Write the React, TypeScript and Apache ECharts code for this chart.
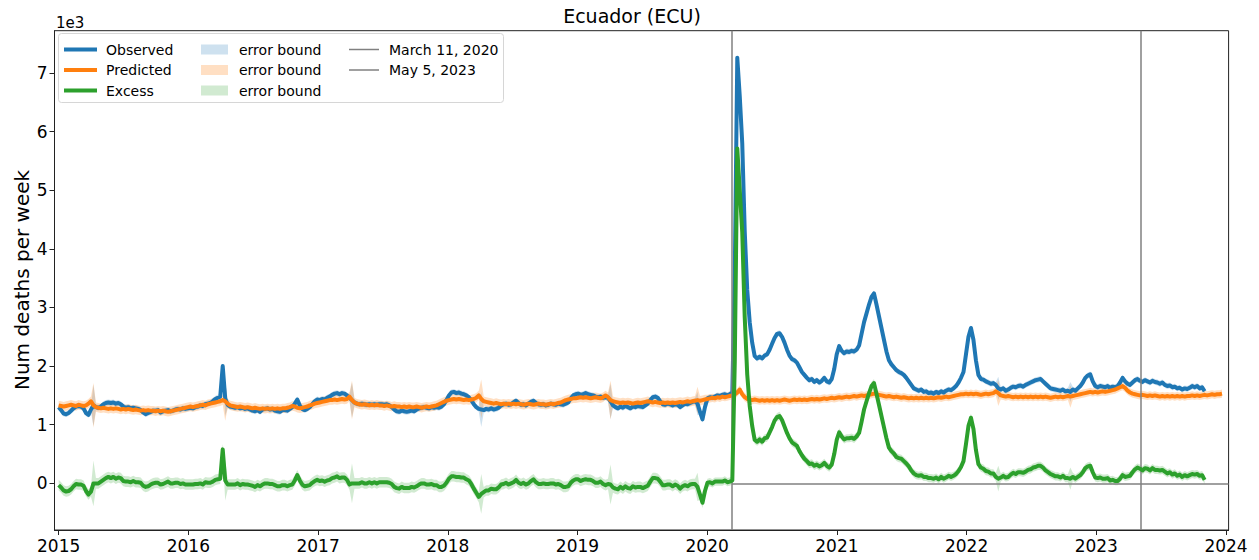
import React, { useEffect, useRef } from "react";
import * as echarts from "echarts";

const TITLE = "Ecuador (ECU)";
const Y_LABEL = "Num deaths per week";
const Y_SCALE_LABEL = "1e3";

// Weekly series: first week (decimal year) and week length in years
const WEEK_START = 2015.0;
const WEEK_STEP = 7 / 365.25;

const X_TICKS = [2015, 2016, 2017, 2018, 2019, 2020, 2021, 2022, 2023, 2024];
const Y_TICKS = [0, 1, 2, 3, 4, 5, 6, 7];
const X_MIN = 2014.968;
const X_MAX = 2024.02;
const Y_MIN = -0.795;
const Y_MAX = 7.72;

const MARCH_11_2020 = 2020 + 70 / 366;
const MAY_5_2023 = 2023 + 124 / 365;

// Observed deaths per week (thousands), one value per week
const observed = [
  1.30, 1.25, 1.19, 1.18, 1.20, 1.24, 1.28, 1.31, 1.32, 1.31, 1.28, 1.20, 1.17,
  1.26, 1.33, 1.30, 1.29, 1.31, 1.35, 1.37, 1.38, 1.37, 1.38, 1.36, 1.37, 1.35,
  1.31, 1.29, 1.30, 1.28, 1.29, 1.28, 1.27, 1.25, 1.21, 1.18, 1.20, 1.22, 1.24,
  1.24, 1.25, 1.21, 1.23, 1.24, 1.25, 1.23, 1.24, 1.26, 1.27, 1.26, 1.28, 1.27,
  1.28, 1.29, 1.28, 1.30, 1.31, 1.33, 1.32, 1.35, 1.36, 1.37, 1.40, 1.44, 1.46,
  1.48, 2.00, 1.45, 1.34, 1.31, 1.30, 1.29, 1.30, 1.28, 1.29, 1.27, 1.28, 1.26,
  1.24, 1.23, 1.25, 1.22, 1.26, 1.27, 1.28, 1.26, 1.27, 1.24, 1.23, 1.22, 1.25,
  1.25, 1.24, 1.27, 1.30, 1.36, 1.43, 1.33, 1.27, 1.25, 1.27, 1.30, 1.35, 1.40,
  1.43, 1.42, 1.44, 1.43, 1.46, 1.48, 1.51, 1.53, 1.54, 1.52, 1.54, 1.53, 1.50,
  1.46, 1.42, 1.38, 1.36, 1.35, 1.36, 1.35, 1.34, 1.35, 1.34, 1.35, 1.34, 1.35,
  1.35, 1.34, 1.35, 1.33, 1.30, 1.26, 1.23, 1.22, 1.24, 1.23, 1.22, 1.23, 1.24,
  1.23, 1.26, 1.28, 1.29, 1.30, 1.29, 1.28, 1.30, 1.29, 1.30, 1.29, 1.31, 1.35,
  1.42, 1.50, 1.55, 1.56, 1.54, 1.55, 1.53, 1.52, 1.50, 1.47, 1.42, 1.35, 1.30,
  1.27, 1.26, 1.25, 1.27, 1.26, 1.28, 1.26, 1.27, 1.29, 1.33, 1.35, 1.36, 1.34,
  1.35, 1.38, 1.41, 1.37, 1.34, 1.35, 1.33, 1.36, 1.39, 1.41, 1.37, 1.35, 1.34,
  1.35, 1.33, 1.34, 1.36, 1.35, 1.34, 1.36, 1.35, 1.34, 1.36, 1.38, 1.45, 1.50,
  1.52, 1.53, 1.51, 1.52, 1.54, 1.52, 1.51, 1.50, 1.48, 1.47, 1.48, 1.46, 1.47,
  1.46, 1.40, 1.33, 1.30, 1.28, 1.31, 1.29, 1.32, 1.30, 1.28, 1.31, 1.30, 1.32,
  1.31, 1.30, 1.33, 1.36, 1.42, 1.47, 1.48, 1.46, 1.40, 1.35, 1.34, 1.36, 1.35,
  1.33, 1.35, 1.34, 1.30, 1.33, 1.36, 1.35, 1.37, 1.39, 1.40, 1.36, 1.22, 1.09,
  1.30, 1.45, 1.47, 1.46, 1.48, 1.50, 1.49, 1.51, 1.52, 1.50, 1.52, 1.55, 3.60,
  7.26, 6.60, 5.80, 4.30, 3.30, 2.75, 2.40, 2.17, 2.13, 2.16, 2.13, 2.18, 2.20,
  2.28, 2.38, 2.48, 2.55, 2.56, 2.50, 2.40, 2.28, 2.18, 2.12, 2.10, 2.06, 1.98,
  1.90, 1.85, 1.80, 1.76, 1.78, 1.73, 1.76, 1.72, 1.75, 1.80, 1.74, 1.72, 1.78,
  1.95, 2.20, 2.34, 2.26, 2.22, 2.25, 2.24, 2.26, 2.25, 2.28, 2.35, 2.55, 2.75,
  2.90, 3.05, 3.18, 3.24, 3.05, 2.85, 2.65, 2.45, 2.25, 2.10, 2.03, 1.98, 1.93,
  1.90, 1.88, 1.85, 1.80, 1.74, 1.68, 1.62, 1.60, 1.58, 1.60, 1.56, 1.57, 1.54,
  1.55, 1.53, 1.56, 1.54, 1.57, 1.55, 1.58, 1.60, 1.59, 1.62, 1.66, 1.72, 1.80,
  1.90, 2.20, 2.50, 2.65, 2.45, 2.10, 1.85, 1.78, 1.77, 1.74, 1.72, 1.70, 1.71,
  1.68, 1.62, 1.60, 1.62, 1.58, 1.60, 1.63, 1.65, 1.64, 1.66, 1.67, 1.65, 1.68,
  1.70, 1.72, 1.74, 1.76, 1.77, 1.78, 1.74, 1.70, 1.66, 1.62, 1.61, 1.60, 1.59,
  1.58, 1.60, 1.57, 1.58, 1.56, 1.60, 1.58, 1.62, 1.66, 1.72, 1.80, 1.84, 1.86,
  1.74, 1.66, 1.64, 1.66, 1.65, 1.64, 1.66, 1.63, 1.65, 1.64, 1.66, 1.72, 1.80,
  1.74, 1.70, 1.68, 1.72, 1.76, 1.78, 1.75, 1.73, 1.76, 1.74, 1.72, 1.75, 1.73,
  1.72, 1.70, 1.72, 1.68, 1.66, 1.67, 1.64, 1.65, 1.62, 1.63, 1.60, 1.62, 1.61,
  1.63, 1.66, 1.64, 1.66, 1.62, 1.64, 1.57,
];

// Predicted (expected) deaths per week (thousands)
const predicted = [
  1.33, 1.32, 1.31, 1.32, 1.33, 1.34, 1.33, 1.32, 1.34, 1.33, 1.32, 1.33, 1.36,
  1.40, 1.33, 1.30, 1.29, 1.28, 1.29, 1.28, 1.27, 1.28, 1.27, 1.28, 1.27, 1.26,
  1.27, 1.26, 1.27, 1.26, 1.25, 1.26, 1.25, 1.24, 1.25, 1.24, 1.25, 1.24, 1.24,
  1.23, 1.24, 1.23, 1.24, 1.23, 1.22, 1.23, 1.24, 1.25, 1.26, 1.27, 1.28, 1.29,
  1.30, 1.31, 1.30, 1.31, 1.32, 1.33, 1.34, 1.33, 1.35, 1.36, 1.37, 1.38, 1.39,
  1.40, 1.42, 1.40, 1.36, 1.33, 1.32, 1.31, 1.30, 1.31, 1.30, 1.29, 1.30, 1.29,
  1.28, 1.29, 1.28, 1.27, 1.28, 1.27, 1.28, 1.27, 1.28, 1.27, 1.28, 1.27, 1.28,
  1.28, 1.29, 1.30, 1.32, 1.31, 1.29, 1.28, 1.29, 1.30, 1.31, 1.33, 1.34, 1.36,
  1.37, 1.38, 1.39, 1.40, 1.41, 1.42, 1.42, 1.43, 1.42, 1.43, 1.44, 1.43, 1.44,
  1.48, 1.42, 1.38, 1.36, 1.35, 1.34, 1.35, 1.34, 1.33, 1.34, 1.33, 1.34, 1.33,
  1.33, 1.32, 1.33, 1.32, 1.31, 1.32, 1.31, 1.31, 1.30, 1.31, 1.30, 1.31, 1.30,
  1.30, 1.31, 1.30, 1.29, 1.30, 1.31, 1.30, 1.31, 1.32, 1.33, 1.35, 1.37, 1.39,
  1.41, 1.42, 1.43, 1.44, 1.43, 1.44, 1.43, 1.42, 1.43, 1.42, 1.43, 1.44, 1.46,
  1.50, 1.44, 1.40, 1.39, 1.38, 1.37, 1.36, 1.37, 1.36, 1.35, 1.36, 1.35, 1.36,
  1.35, 1.36, 1.35, 1.36, 1.35, 1.34, 1.35, 1.36, 1.35, 1.34, 1.35, 1.36, 1.35,
  1.35, 1.34, 1.35, 1.36, 1.35, 1.36, 1.37, 1.38, 1.40, 1.42, 1.43, 1.44, 1.45,
  1.45, 1.46, 1.47, 1.46, 1.47, 1.46, 1.45, 1.46, 1.47, 1.46, 1.45, 1.47, 1.50,
  1.47, 1.42, 1.40, 1.39, 1.38, 1.37, 1.38, 1.37, 1.38, 1.37, 1.36, 1.37, 1.38,
  1.37, 1.38, 1.39, 1.40, 1.39, 1.38, 1.39, 1.38, 1.37, 1.38, 1.37, 1.38, 1.37,
  1.38, 1.37, 1.38, 1.39, 1.38, 1.39, 1.40, 1.39, 1.40, 1.41, 1.42, 1.41, 1.42,
  1.43, 1.44, 1.45, 1.46, 1.45, 1.47, 1.46, 1.48, 1.47, 1.48, 1.49, 1.50, 1.52,
  1.55, 1.60, 1.52, 1.47, 1.44, 1.43, 1.42, 1.43, 1.42, 1.41, 1.42, 1.41, 1.42,
  1.41, 1.42, 1.41, 1.42, 1.41, 1.42, 1.43, 1.42, 1.41, 1.42, 1.43, 1.42, 1.43,
  1.42, 1.43, 1.42, 1.43, 1.44, 1.43, 1.44, 1.43, 1.44, 1.45, 1.44, 1.45, 1.46,
  1.45, 1.46, 1.47, 1.46, 1.47, 1.48, 1.47, 1.48, 1.49, 1.48, 1.49, 1.50, 1.49,
  1.50, 1.51, 1.52, 1.53, 1.52, 1.51, 1.50, 1.49, 1.48, 1.49, 1.48, 1.47, 1.48,
  1.47, 1.46, 1.47, 1.46, 1.45, 1.46, 1.45, 1.46, 1.45, 1.46, 1.45, 1.46, 1.45,
  1.46, 1.45, 1.46, 1.47, 1.46, 1.47, 1.48, 1.47, 1.48, 1.49, 1.50, 1.51, 1.52,
  1.52, 1.53, 1.52, 1.53, 1.52, 1.53, 1.52, 1.51, 1.52, 1.53, 1.52, 1.53, 1.54,
  1.57, 1.54, 1.50, 1.49, 1.48, 1.49, 1.48, 1.47, 1.48, 1.47, 1.48, 1.47, 1.48,
  1.47, 1.48, 1.47, 1.48, 1.47, 1.48, 1.47, 1.48, 1.47, 1.46, 1.47, 1.48, 1.47,
  1.48, 1.47, 1.48, 1.49, 1.48, 1.49, 1.50, 1.51, 1.52, 1.53, 1.54, 1.55, 1.56,
  1.55, 1.56, 1.55, 1.56, 1.57, 1.56, 1.57, 1.58, 1.59, 1.60, 1.62, 1.64, 1.66,
  1.63, 1.58, 1.55, 1.53, 1.52, 1.51, 1.50, 1.51, 1.50, 1.49, 1.50, 1.49, 1.50,
  1.49, 1.48, 1.49, 1.48, 1.49, 1.48, 1.49, 1.48, 1.49, 1.48, 1.49, 1.48, 1.49,
  1.49, 1.50, 1.49, 1.50, 1.49, 1.50, 1.51, 1.50, 1.51, 1.52, 1.51, 1.52, 1.52, 1.53,
];

// Error-bound half widths (thousands), one per year 2015..2023
const observedBoundHalf = [0.05, 0.05, 0.05, 0.05, 0.05, 0.05, 0.05, 0.05, 0.05];
const predictedBoundHalf = [0.08, 0.08, 0.08, 0.08, 0.08, 0.07, 0.07, 0.07, 0.07];
const excessBoundHalf = [0.09, 0.09, 0.09, 0.09, 0.09, 0.07, 0.07, 0.07, 0.07];
// Weeks with a wider error bound: [week index, extra half width]
const boundSpikes = [
  [14, 0.3], [67, 0.25], [118, 0.25], [170, 0.25], [222, 0.25], [257, 0.15], [378, 0.15], [407, 0.12],
];

const BLUE = "#1f77b4";
const ORANGE = "#ff7f0e";
const GREEN = "#2ca02c";
const BLUE_BAND = "rgba(31,119,180,0.22)";
const ORANGE_BAND = "rgba(255,127,14,0.25)";
const GREEN_BAND = "rgba(44,160,44,0.22)";
const GRAY = "#808080";
const FONT = "DejaVu Sans";

const weekTime = (i: number) => WEEK_START + i * WEEK_STEP;

function halfAt(arr: number[], i: number) {
  const t = weekTime(i);
  const y = Math.max(0, Math.min(arr.length - 1, Math.floor(t) - 2015));
  let h = arr[y];
  for (const [w, extra] of boundSpikes) if (w === i) h += extra;
  return h;
}

function bandSeries(name: string, values: number[], half: number[], color: string) {
  const lo = values.map((v, i) => [weekTime(i), v - halfAt(half, i)]);
  const hi = values.map((v, i) => [weekTime(i), v + halfAt(half, i)]);
  return {
    type: "custom",
    name,
    silent: true,
    z: 1,
    clip: true,
    data: [[weekTime(0), values[0]]],
    encode: { x: 0, y: 1 },
    renderItem: (_params: any, api: any) => {
      const pts: number[][] = [];
      for (const p of lo) pts.push(api.coord(p));
      for (let k = hi.length - 1; k >= 0; k--) pts.push(api.coord(hi[k]));
      return {
        type: "polygon",
        shape: { points: pts },
        style: { fill: color, stroke: "none" },
      };
    },
  };
}

export default function App() {
  const ref = useRef<HTMLDivElement>(null);

  useEffect(() => {
    if (!ref.current) return;
    const chart = echarts.init(ref.current, undefined, { renderer: "svg" });

    const excess = observed.map((v, i) => +(v - predicted[i]).toFixed(3));

    const legendRows = [49.5, 70, 90.5];
    const textStyle = (text: string, x: number, y: number) => ({
      type: "text",
      z: 100,
      style: {
        text,
        x,
        y,
        fill: "#000",
        fontSize: 14,
        fontFamily: FONT,
        align: "left",
        verticalAlign: "middle",
      },
    });

    const graphic: any[] = [
      {
        type: "rect",
        z: 99,
        shape: { x: 58.5, y: 33.5, width: 445, height: 69, r: 3 },
        style: { fill: "rgba(255,255,255,0.85)", stroke: "#d6d6d6", lineWidth: 1 },
      },
      ...[BLUE, ORANGE, GREEN].map((c, k) => ({
        type: "line",
        z: 100,
        shape: { x1: 64, y1: legendRows[k], x2: 97, y2: legendRows[k] },
        style: { stroke: c, lineWidth: 4 },
      })),
      textStyle("Observed", 106, legendRows[0]),
      textStyle("Predicted", 106, legendRows[1]),
      textStyle("Excess", 106, legendRows[2]),
      ...[BLUE_BAND, ORANGE_BAND, GREEN_BAND].map((c, k) => ({
        type: "rect",
        z: 100,
        shape: { x: 201, y: legendRows[k] - 5, width: 27, height: 10 },
        style: { fill: c },
      })),
      textStyle("error bound", 239, legendRows[0]),
      textStyle("error bound", 239, legendRows[1]),
      textStyle("error bound", 239, legendRows[2]),
      ...[0, 1].map((k) => ({
        type: "line",
        z: 100,
        shape: { x1: 349, y1: legendRows[k], x2: 379, y2: legendRows[k] },
        style: { stroke: GRAY, lineWidth: 1.5 },
      })),
      textStyle("March 11, 2020", 389, legendRows[0]),
      textStyle("May 5, 2023", 389, legendRows[1]),
      {
        type: "text",
        z: 100,
        style: {
          text: Y_SCALE_LABEL,
          x: 56,
          y: 23,
          fill: "#000",
          fontSize: 15,
          fontFamily: FONT,
          align: "left",
          verticalAlign: "middle",
        },
      },
      {
        type: "text",
        z: 100,
        style: {
          text: TITLE,
          x: 632,
          y: 16,
          fill: "#000",
          fontSize: 19,
          fontFamily: FONT,
          align: "center",
          verticalAlign: "middle",
        },
      },
      {
        type: "text",
        z: 100,
        x: 22,
        y: 280,
        rotation: Math.PI / 2,
        style: {
          text: Y_LABEL,
          x: 0,
          y: 0,
          fill: "#000",
          fontSize: 20,
          fontFamily: FONT,
          align: "center",
          verticalAlign: "middle",
        },
      },
    ];

    const lineSeries = (name: string, values: number[], color: string, z: number, extra: any = {}) => ({
      type: "line",
      name,
      data: values.map((v, i) => [weekTime(i), v]),
      showSymbol: false,
      symbol: "none",
      clip: true,
      z,
      lineStyle: { color, width: 4, join: "round" },
      itemStyle: { color },
      emphasis: { disabled: true },
      ...extra,
    });

    chart.setOption({
      animation: false,
      grid: {
        left: 54.5,
        right: 30.4,
        top: 30.7,
        bottom: 30,
        show: true,
        borderColor: "#222",
        borderWidth: 1,
        backgroundColor: "transparent",
      },
      xAxis: {
        type: "value",
        min: X_MIN,
        max: X_MAX,
        axisLine: { show: true, onZero: false, lineStyle: { color: "#222", width: 1 } },
        axisTick: {
          show: true,
          customValues: X_TICKS,
          length: 5,
          inside: false,
          lineStyle: { color: "#222", width: 1 },
        },
        axisLabel: {
          customValues: X_TICKS,
          formatter: (v: number) => String(Math.round(v)),
          fontSize: 17,
          color: "#000",
          fontFamily: FONT,
          margin: 7,
        },
        splitLine: { show: false },
      },
      yAxis: {
        type: "value",
        min: Y_MIN,
        max: Y_MAX,
        axisLine: { show: true, onZero: false, lineStyle: { color: "#222", width: 1 } },
        axisTick: {
          show: true,
          customValues: Y_TICKS,
          length: 5,
          inside: false,
          lineStyle: { color: "#222", width: 1 },
        },
        axisLabel: {
          customValues: Y_TICKS,
          formatter: (v: number) => String(Math.round(v)),
          fontSize: 17,
          color: "#000",
          fontFamily: FONT,
          margin: 7,
        },
        splitLine: { show: false },
      },
      graphic,
      series: [
        bandSeries("observed bound", observed, observedBoundHalf, BLUE_BAND),
        bandSeries("predicted bound", predicted, predictedBoundHalf, ORANGE_BAND),
        bandSeries("excess bound", excess, excessBoundHalf, GREEN_BAND),
        lineSeries("Observed", observed, BLUE, 3, {
          markLine: {
            silent: true,
            symbol: "none",
            label: { show: false },
            lineStyle: { color: GRAY, width: 1.5, type: "solid" },
            data: [
              { xAxis: MARCH_11_2020 },
              { xAxis: MAY_5_2023 },
              [{ coord: [MARCH_11_2020, 0] }, { coord: [X_MAX, 0] }],
            ],
          },
        }),
        lineSeries("Predicted", predicted, ORANGE, 4),
        lineSeries("Excess", excess, GREEN, 5),
      ],
    });

    return () => chart.dispose();
  }, []);

  return (
    <div
      ref={ref}
      style={{ position: "absolute", left: 0, top: 0, width: 1259, height: 560 }}
    />
  );
}
